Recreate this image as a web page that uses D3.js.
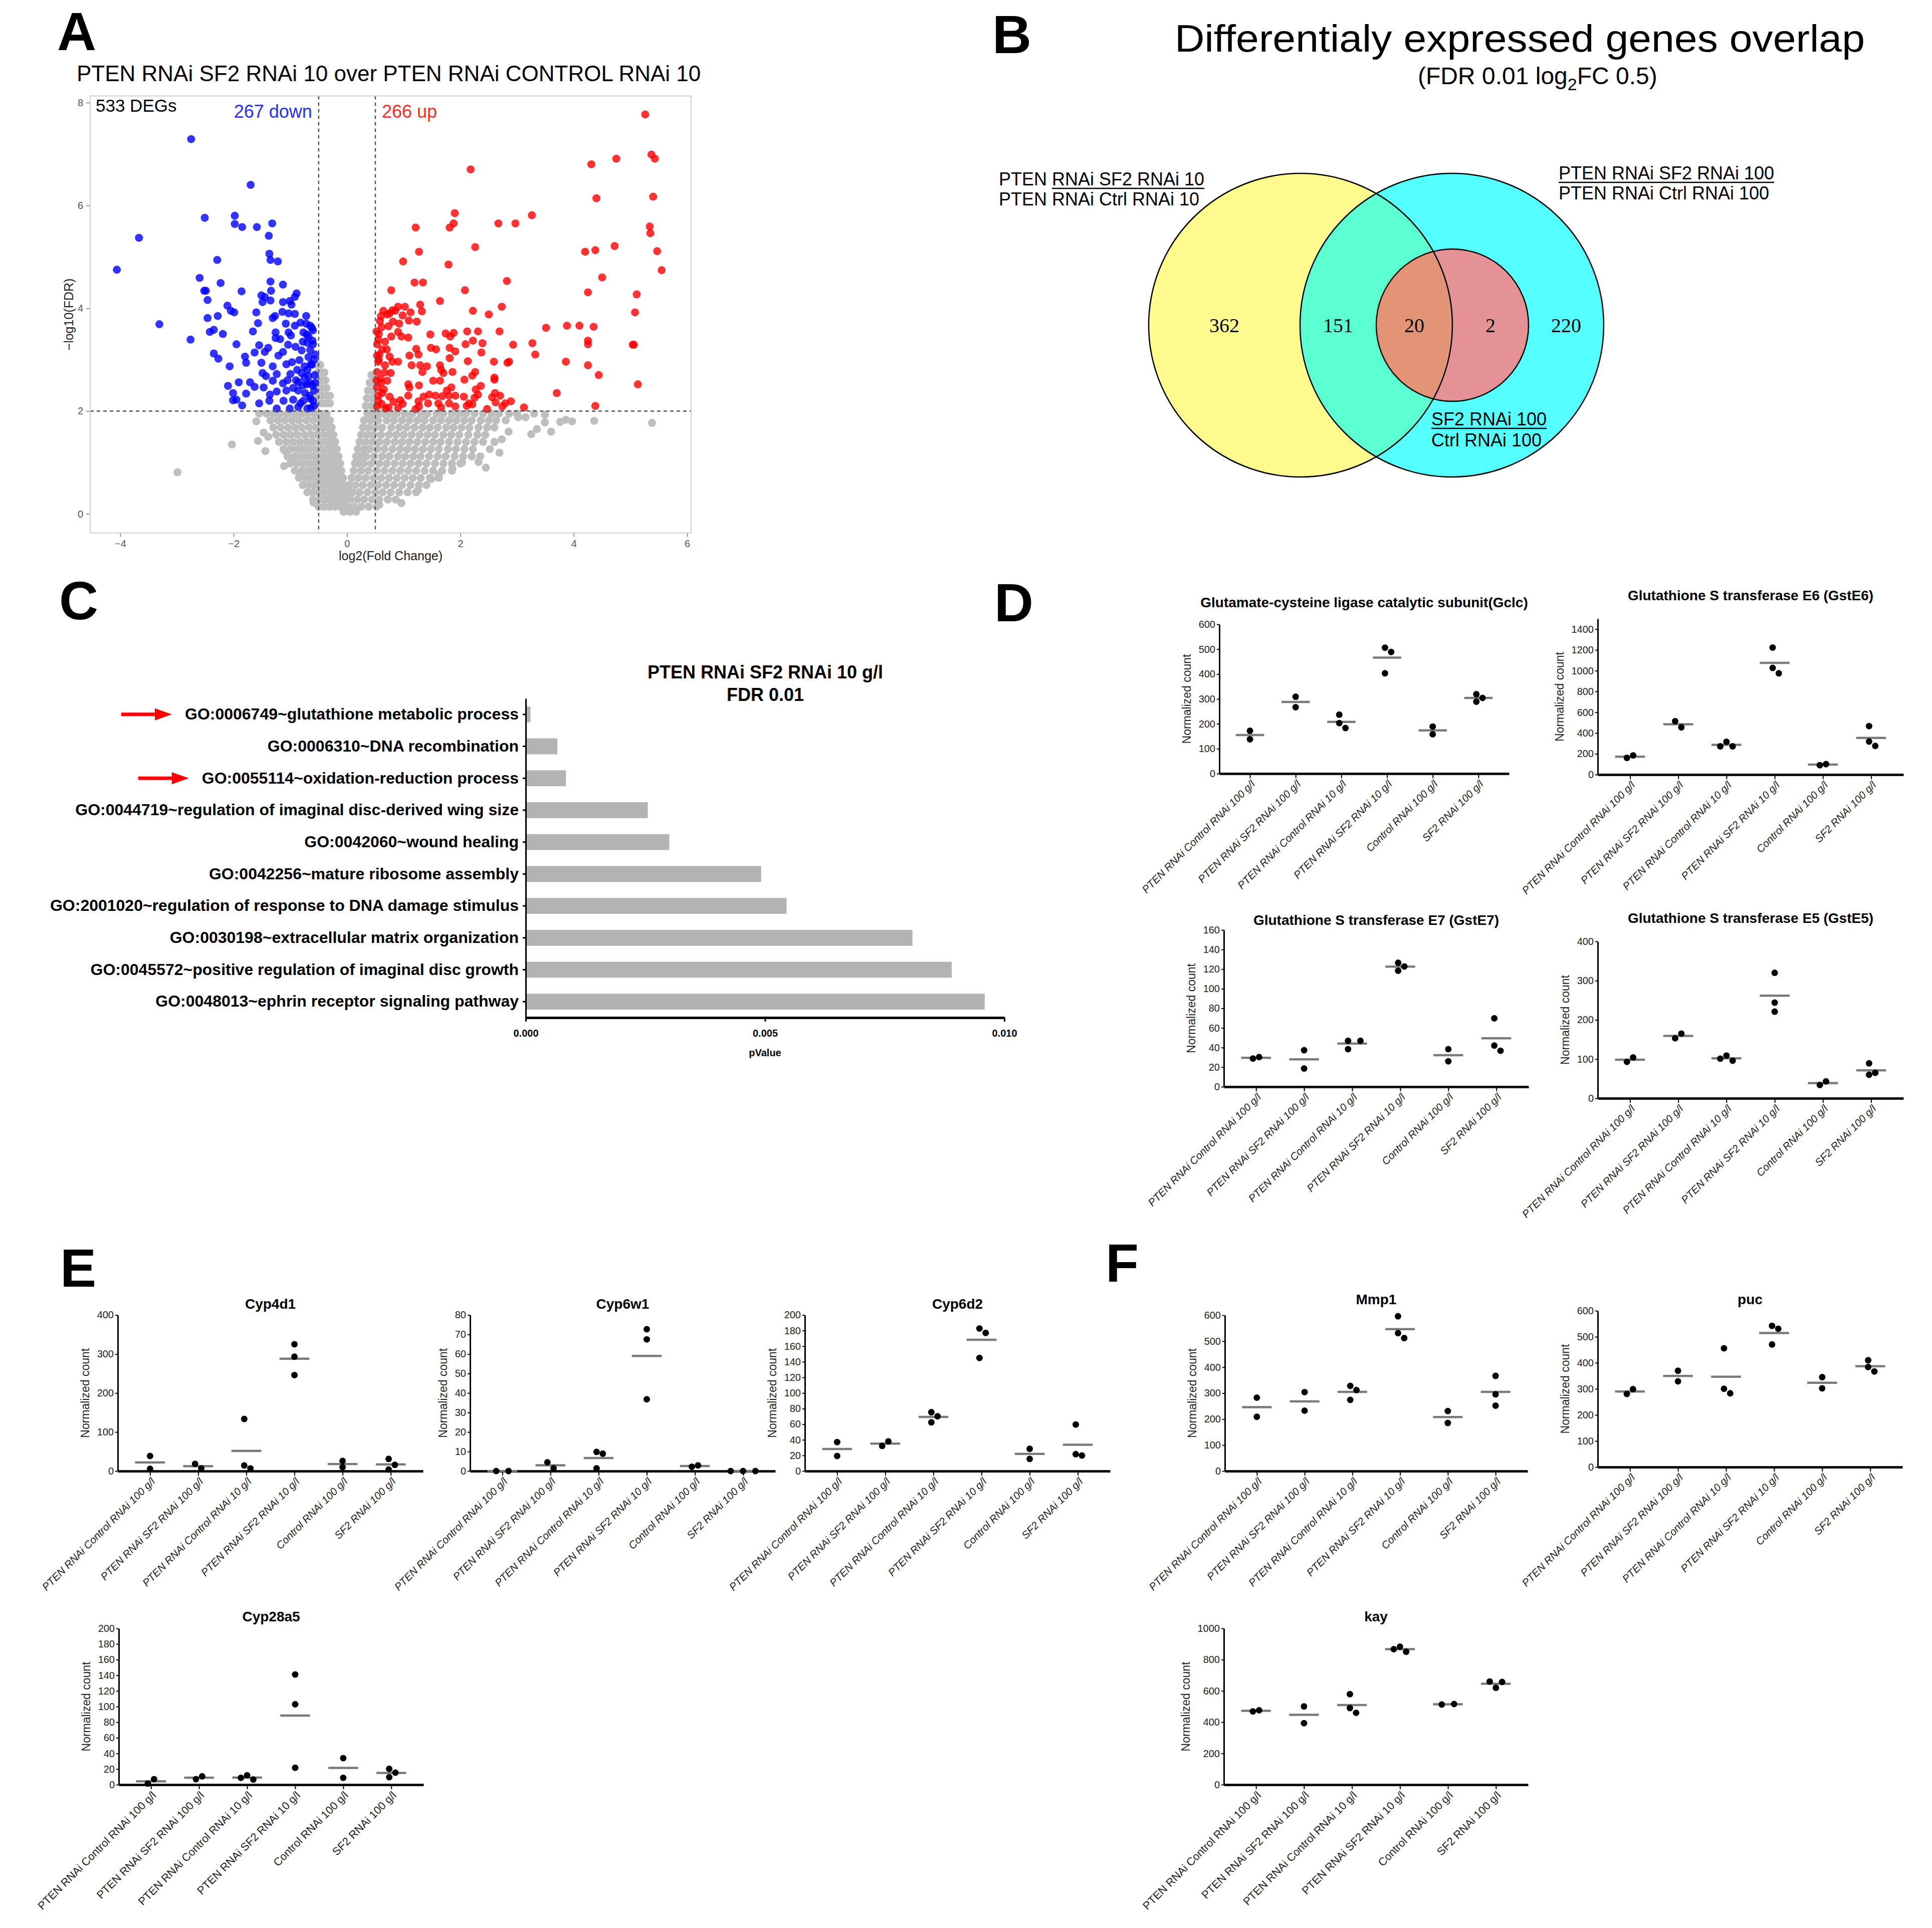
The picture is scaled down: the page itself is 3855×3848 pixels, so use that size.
<!DOCTYPE html>
<html>
<head>
<meta charset="utf-8">
<script src="https://cdn.jsdelivr.net/npm/d3@7"></script>
<style>
  body { margin: 0; background: #fff; }
  svg { display: block; }
</style>
</head>
<body>
<script>
const FONT = "'Liberation Sans', Arial, Helvetica, sans-serif";
const SERIF = "'Liberation Serif', 'Times New Roman', serif";

// ---------- data: A volcano (log2FC, -log10 FDR) ----------
const volcanoXTicks = [-4, -2, 0, 2, 4, 6];
const volcanoYTicks = [0, 2, 4, 6, 8];
const volcanoCounts = {total: 533, down: 267, up: 266};

const downGenes = [[-2.75,7.29],[-1.70,6.40],[-2.51,5.76],[-1.98,5.80],[-1.98,5.64],[-1.85,5.58],[-1.59,5.58],[-1.32,5.65],[-1.38,5.41],[-3.67,5.37],[-4.06,4.75],[-2.29,4.94],[-1.37,5.06],[-1.35,4.94],[-1.22,4.91],[-2.60,4.59],[-2.23,4.49],[-2.52,4.34],[-2.49,4.34],[-1.86,4.33],[-1.35,4.52],[-1.13,4.46],[-1.34,4.34],[-2.46,4.16],[-1.51,4.25],[-1.45,4.22],[-1.35,4.15],[-1.49,4.12],[-0.89,4.29],[-0.92,4.22],[-1.13,4.12],[-1.01,4.14],[-0.98,4.07],[-2.11,4.05],[-2.05,3.95],[-1.99,3.92],[-1.60,3.92],[-1.14,3.93],[-1.03,3.90],[-0.92,3.89],[-2.46,3.81],[-2.28,3.85],[-1.57,3.71],[-1.31,3.81],[-1.27,3.85],[-0.72,3.85],[-1.08,3.70],[-0.92,3.66],[-0.82,3.72],[-0.72,3.70],[-0.65,3.66],[-3.31,3.69],[-2.42,3.54],[-2.35,3.58],[-2.19,3.50],[-1.66,3.55],[-1.26,3.53],[-1.03,3.53],[-0.77,3.53],[-0.60,3.57],[-1.26,3.42],[-1.18,3.40],[-0.99,3.47],[-0.71,3.49],[-2.76,3.39],[-1.95,3.30],[-1.55,3.28],[-1.39,3.23],[-1.04,3.29],[-0.91,3.25],[-0.70,3.33],[-0.61,3.37],[-2.35,3.12],[-2.27,3.02],[-1.80,3.06],[-1.63,3.14],[-1.45,3.15],[-1.13,3.15],[-1.21,3.08],[-0.80,3.18],[-0.65,3.19],[-2.07,2.87],[-1.78,2.94],[-1.51,2.94],[-1.31,2.87],[-1.07,2.91],[-0.97,2.95],[-0.84,2.99],[-0.75,2.87],[-0.64,2.91],[-1.49,2.74],[-1.43,2.68],[-1.24,2.72],[-1.00,2.72],[-0.80,2.74],[-0.68,2.68],[-2.10,2.49],[-1.91,2.56],[-1.71,2.56],[-1.63,2.47],[-1.47,2.46],[-1.31,2.59],[-1.13,2.54],[-0.86,2.56],[-0.71,2.52],[-0.61,2.50],[-2.01,2.35],[-1.78,2.34],[-1.36,2.32],[-1.24,2.38],[-1.07,2.40],[-0.86,2.40],[-0.74,2.35],[-2.01,2.21],[-1.95,2.22],[-1.85,2.11],[-1.55,2.15],[-1.37,2.20],[-1.12,2.20],[-0.95,2.22],[-0.77,2.20],[-0.65,2.24],[-1.24,2.05],[-1.01,2.05],[-0.86,2.08],[-0.64,2.06],[-0.58,2.10],[-0.58,2.40],[-0.57,2.70],[-0.58,3.00],[-0.60,3.30],[-0.66,2.30],[-0.70,2.80],[-0.62,2.90],[-0.78,2.50],[-0.82,2.15],[-0.90,2.60],[-0.95,2.45],[-1.05,2.60],[-0.70,2.05],[-0.60,2.20],[-0.56,2.55],[-0.56,3.10],[-0.68,3.05],[-0.75,2.65],[-0.66,2.55],[-0.88,2.80],[-0.78,3.35],[-0.62,3.62],[-0.68,3.45]];

const upGenes = [[5.26,7.77],[5.37,6.99],[5.43,6.91],[4.75,6.91],[4.31,6.80],[2.18,6.70],[5.40,6.17],[4.40,6.14],[1.90,5.85],[3.26,5.81],[1.88,5.65],[1.81,5.57],[1.21,5.57],[2.67,5.65],[2.97,5.65],[5.34,5.59],[5.35,5.46],[2.26,5.19],[1.27,5.10],[4.20,5.10],[4.38,5.13],[4.72,5.21],[5.47,5.11],[0.99,4.91],[1.79,4.85],[5.55,4.74],[4.50,4.60],[2.82,4.53],[1.19,4.50],[1.34,4.50],[0.78,4.35],[2.08,4.35],[4.25,4.31],[5.11,4.27],[1.64,4.14],[1.29,4.07],[1.32,3.94],[2.73,4.03],[2.22,3.95],[2.50,3.88],[5.08,3.92],[0.90,4.03],[1.02,4.03],[0.80,3.96],[0.71,3.88],[1.12,3.92],[0.98,3.86],[1.09,3.76],[1.23,3.74],[0.81,3.74],[0.61,3.63],[0.73,3.65],[0.92,3.70],[3.51,3.62],[3.88,3.66],[4.10,3.66],[4.35,3.64],[1.47,3.49],[1.74,3.51],[1.88,3.52],[1.82,3.45],[2.12,3.55],[2.31,3.55],[2.69,3.55],[0.90,3.54],[0.78,3.45],[1.08,3.43],[0.96,3.45],[0.55,3.39],[0.67,3.35],[0.53,3.30],[1.22,3.21],[1.48,3.23],[1.57,3.20],[1.81,3.23],[1.91,3.16],[2.09,3.30],[2.22,3.37],[2.39,3.32],[2.37,3.14],[2.93,3.29],[3.27,3.32],[3.32,3.10],[4.25,3.37],[4.25,3.30],[5.04,3.29],[5.06,3.29],[0.53,3.08],[0.57,3.10],[0.75,3.06],[1.10,3.08],[1.26,3.10],[1.81,3.03],[2.13,2.97],[2.59,2.96],[2.83,2.94],[2.86,2.96],[3.86,2.96],[4.25,2.89],[4.44,2.70],[5.13,2.52],[3.70,2.35],[4.38,2.10],[3.12,2.07],[2.47,2.04],[0.55,2.96],[0.67,2.89],[0.80,2.96],[0.90,2.96],[1.14,2.89],[1.29,2.89],[1.41,2.87],[1.64,2.89],[1.66,2.80],[1.86,2.76],[1.70,2.74],[1.33,2.76],[0.77,2.74],[0.53,2.76],[0.59,2.63],[0.71,2.59],[1.08,2.52],[1.27,2.50],[1.52,2.59],[1.64,2.59],[2.07,2.61],[2.21,2.69],[2.26,2.76],[2.60,2.61],[2.60,2.65],[2.36,2.49],[2.27,2.42],[1.84,2.46],[1.76,2.40],[1.10,2.46],[0.65,2.42],[0.53,2.46],[0.55,2.30],[0.75,2.28],[0.94,2.21],[1.08,2.30],[1.26,2.19],[1.35,2.28],[1.45,2.32],[1.56,2.30],[1.68,2.29],[1.80,2.30],[1.91,2.30],[2.06,2.28],[2.15,2.15],[2.25,2.26],[2.31,2.32],[2.56,2.27],[2.70,2.30],[2.61,2.35],[2.89,2.19],[2.79,2.15],[2.74,2.09],[2.62,2.17],[1.91,2.09],[1.80,2.15],[1.61,2.15],[1.66,2.07],[1.43,2.15],[1.27,2.09],[1.21,2.04],[0.90,2.06],[0.98,2.14],[0.82,2.18],[0.61,2.14],[0.53,2.09],[0.73,2.07],[2.11,2.10],[2.21,2.13],[0.52,3.55],[0.58,3.75],[0.60,3.85],[0.56,3.50],[0.52,2.60],[0.55,2.20],[0.62,2.35],[0.66,2.75],[0.56,3.00],[0.70,3.20],[0.64,3.95],[0.75,3.90],[0.85,3.95],[0.60,2.55],[0.62,3.20],[0.68,2.05]];

// non-significant genes, read row by row: [-log10 FDR, [log2FC ...]]
const nsRows = [
  [2.90,[-0.52,-0.47]],[2.75,[-0.52,-0.46,-0.40]],[2.60,[-0.52,-0.45,-0.38]],[2.45,[-0.52,-0.44,-0.36]],
  [2.30,[-0.52,-0.44,-0.36,-0.30]],[2.15,[-0.52,-0.44,-0.37,-0.30]],
  [2.70,[0.43]],[2.55,[0.40,0.47]],[2.40,[0.37,0.46]],[2.25,[0.35,0.44]],[2.10,[0.33,0.42,0.48]],
  [1.95,[-1.42,-1.30,-1.18,-1.05,-0.92,-0.80,-0.68,-0.56,-0.45,-0.36,0.36,0.45,0.52,0.63,0.76,0.88,1.02,1.15,1.30,1.42,1.58,1.70,1.85,1.98,2.10,2.25,2.40,2.55,2.68,2.86,3.00]],
  [1.82,[-1.35,-1.22,-1.10,-0.97,-0.85,-0.72,-0.60,-0.48,-0.38,-0.30,0.30,0.42,0.55,0.70,0.83,0.97,1.10,1.24,1.37,1.52,1.66,1.80,1.93,2.07,2.20,2.36,2.50,2.63,2.80]],
  [1.68,[-1.30,-1.17,-1.04,-0.92,-0.80,-0.67,-0.55,-0.44,-0.34,-0.27,0.28,0.39,0.50,0.62,0.78,0.92,1.05,1.19,1.33,1.46,1.60,1.75,1.88,2.02,2.16,2.32,2.47,2.60]],
  [1.54,[-1.25,-1.12,-1.00,-0.88,-0.75,-0.63,-0.52,-0.41,-0.31,-0.24,0.25,0.36,0.47,0.60,0.74,0.87,1.00,1.14,1.28,1.42,1.55,1.70,1.84,1.98,2.14,2.30,2.44]],
  [1.40,[-1.20,-1.07,-0.95,-0.83,-0.71,-0.60,-0.48,-0.37,-0.28,-0.21,0.22,0.33,0.45,0.57,0.70,0.84,0.97,1.10,1.24,1.38,1.52,1.65,1.80,1.95,2.10,2.25,2.40,2.60]],
  [1.26,[-1.12,-1.00,-0.88,-0.77,-0.66,-0.55,-0.44,-0.34,-0.25,-0.18,0.19,0.30,0.40,0.53,0.66,0.80,0.94,1.07,1.20,1.34,1.48,1.62,1.78,1.92,2.07,2.22]],
  [1.12,[-1.05,-0.93,-0.82,-0.71,-0.60,-0.50,-0.40,-0.31,-0.22,-0.15,0.16,0.25,0.34,0.48,0.62,0.75,0.90,1.03,1.17,1.30,1.45,1.60,1.74,1.90,2.05,2.20,2.35]],
  [0.98,[-1.00,-0.88,-0.77,-0.66,-0.55,-0.45,-0.36,-0.27,-0.19,-0.12,0.14,0.22,0.30,0.43,0.57,0.70,0.84,0.98,1.12,1.26,1.40,1.55,1.70,1.85,2.00]],
  [0.84,[-0.92,-0.80,-0.70,-0.60,-0.50,-0.41,-0.32,-0.24,-0.16,-0.10,0.12,0.25,0.38,0.52,0.66,0.80,0.94,1.08,1.22,1.37,1.52,1.68,1.85]],
  [0.70,[-0.85,-0.74,-0.64,-0.54,-0.45,-0.36,-0.28,-0.20,-0.13,-0.07,0.08,0.20,0.33,0.47,0.60,0.74,0.88,1.02,1.16,1.30,1.46,1.62]],
  [0.56,[-0.78,-0.67,-0.57,-0.48,-0.39,-0.31,-0.23,-0.16,-0.10,-0.04,0.04,0.15,0.28,0.42,0.55,0.69,0.83,0.97,1.12,1.27,1.40]],
  [0.42,[-0.70,-0.60,-0.50,-0.42,-0.33,-0.25,-0.18,-0.11,-0.05,0.00,0.10,0.22,0.36,0.50,0.63,0.77,0.92,1.07,1.22]],
  [0.28,[-0.60,-0.50,-0.41,-0.33,-0.25,-0.17,-0.10,-0.04,0.06,0.18,0.30,0.44,0.57,0.72,0.86]],
  [0.14,[-0.50,-0.40,-0.30,-0.21,-0.12,-0.05,0.00,0.12,0.25,0.38,0.52]],
  [0.04,[-0.06,0.05,0.16]]
];
const nsScattered = [[-2.99,0.81],[-2.03,1.35],[-1.57,1.42],[-1.44,1.22],[-1.47,1.58],[-1.39,1.50],[-1.11,0.93],[-1.10,1.23],[-0.99,1.05],[-0.82,0.76],[-0.59,0.22],[3.15,1.88],[3.49,1.93],[3.25,1.55],[3.35,1.65],[3.60,1.60],[3.49,1.78],[3.76,1.79],[3.86,1.83],[3.97,1.80],[4.36,1.81],[5.38,1.77],[3.02,1.88],[2.85,1.60],[2.73,1.45],[2.69,1.19],[2.52,1.26],[2.32,1.01],[2.03,1.00],[1.86,0.88],[1.62,0.76],[1.49,0.68],[1.25,0.46],[0.96,0.21],[0.57,0.18],[-1.60,1.80],[-1.55,1.95],[3.30,1.95],[2.45,0.90]];

// ---------- data: B venn ----------
const vennCounts = [362, 151, 20, 2, 220];
const vennSetA = ['PTEN RNAi SF2 RNAi 10', 'PTEN RNAi Ctrl RNAi 10'];
const vennSetB = ['PTEN RNAi SF2 RNAi 100', 'PTEN RNAi Ctrl RNAi 100'];
const vennSetC = ['SF2 RNAi 100', 'Ctrl RNAi 100'];

// ---------- data: C GO terms ----------
const goTerms = [
  'GO:0006749~glutathione metabolic process',
  'GO:0006310~DNA recombination',
  'GO:0055114~oxidation-reduction process',
  'GO:0044719~regulation of imaginal disc-derived wing size',
  'GO:0042060~wound healing',
  'GO:0042256~mature ribosome assembly',
  'GO:2001020~regulation of response to DNA damage stimulus',
  'GO:0030198~extracellular matrix organization',
  'GO:0045572~positive regulation of imaginal disc growth',
  'GO:0048013~ephrin receptor signaling pathway'
];
const goPValues = [0.0001, 0.00066, 0.00084, 0.00255, 0.0030, 0.00492, 0.00545, 0.00808, 0.0089, 0.00959];
const goHighlighted = ['GO:0006749~glutathione metabolic process', 'GO:0055114~oxidation-reduction process'];
const goXTicks = [0, 0.005, 0.01];

// ---------- data: D/E/F normalized counts ----------
const conditions = ['PTEN RNAi Control RNAi 100 g/l', 'PTEN RNAi SF2 RNAi 100 g/l', 'PTEN RNAi Control RNAi 10 g/l', 'PTEN RNAi SF2 RNAi 10 g/l', 'Control RNAi 100 g/l', 'SF2 RNAi 100 g/l'];

const gclc = [[172,138],[309,267],[237,203,183],[506,489,403],[189,158],[319,304,289]];
const gstE6 = [[161,185],[514,455],[316,272,272],[1223,1027,975],[91,101],[467,318,276]];
const gstE7 = [[28.8,30.3],[37.3,18.6],[46.9,46.9,38.4],[118.4,126.5,122.7],[38.4,26],[69.8,42,36.7]];
const gstE5 = [[93,104],[153,165],[109,96,101],[320,244,221],[34,43],[89,60,65]];
const cyp4d1 = [[38.6,5.8],[18.4,6.9],[133.5,14.4,6.9],[325,293,246],[26,9.8],[31,16,4]];
const cyp6w1 = [[0,0],[4.5,1.4],[9.8,8.9,1.4],[72.7,67.5,36.8],[2.2,2.9],[0,0,0]];
const cyp6d2 = [[37.1,19.3],[32.2,38],[75.4,70.2,62.4],[182.7,177,145],[28.5,15.5],[59.6,21.6,19.9]];
const cyp28a5 = [[1.4,7.1],[7.1,10.7],[12,6.6,8.8],[141,102.9,21.7],[34,8.8],[20.3,15.4,9.6]];
const mmp1 = [[282.6,209],[304,232.5],[328,312,274],[596,531,512],[231,185],[366.5,295.6,252]];
const puc = [[280.7,298.8],[369.6,329],[456,300.5,283],[542,531,470.6],[345,302],[410,384,367]];
const kay = [[469,476],[500.7,393.7],[579,490,460],[883,850.5,867],[513,516],[660,620,657]];

const ticks600 = [0, 100, 200, 300, 400, 500, 600];
const ticks1400 = [0, 200, 400, 600, 800, 1000, 1200, 1400];
const ticks160 = [0, 20, 40, 60, 80, 100, 120, 140, 160];
const ticks400 = [0, 100, 200, 300, 400];
const ticks80 = [0, 10, 20, 30, 40, 50, 60, 70, 80];
const ticks200 = [0, 20, 40, 60, 80, 100, 120, 140, 160, 180, 200];
const ticks1000 = [0, 200, 400, 600, 800, 1000];

// ---------- svg ----------
const svg = d3.select('body').append('svg')
  .attr('width', 3855).attr('height', 3848)
  .style('font-family', FONT);
svg.append('rect').attr('width', 3855).attr('height', 3848).attr('fill', '#fff');

const letters = [['A', 114, 100], ['B', 1980, 106], ['C', 118, 1236], ['D', 1984, 1240], ['E', 120, 2568], ['F', 2206, 2558]];
svg.selectAll('text.letter').data(letters).join('text')
  .attr('class', 'letter')
  .attr('x', d => d[1]).attr('y', d => d[2])
  .attr('font-size', 108).attr('font-weight', 'bold')
  .text(d => d[0]);

// ---------- A ----------
const drawVolcano = () => {
  const box = {left: 180, right: 1379, top: 191.5, bottom: 1063.6};
  const x = d3.scaleLinear().domain([-4.53, 6.07]).range([box.left, box.right]);
  const y = d3.scaleLinear().domain([-0.37, 8.13]).range([box.bottom, box.top]);
  const g = svg.append('g');

  g.append('text').attr('x', 153).attr('y', 162).attr('font-size', 44)
    .text('PTEN RNAi SF2 RNAi 10 over PTEN RNAi CONTROL RNAi 10');

  const xa = g.append('g').attr('transform', 'translate(0,' + box.bottom + ')')
    .call(d3.axisBottom(x).tickValues(volcanoXTicks).tickSize(8).tickPadding(6));
  const ya = g.append('g').attr('transform', 'translate(' + box.left + ',0)')
    .call(d3.axisLeft(y).tickValues(volcanoYTicks).tickSize(8).tickPadding(6));
  [xa, ya].forEach(a => {
    a.attr('font-size', 20).attr('font-family', FONT);
    a.select('.domain').remove();
    a.selectAll('.tick line').attr('stroke', '#999').attr('stroke-width', 2);
    a.selectAll('.tick text').attr('fill', '#555');
  });

  const ns = nsRows.flatMap(([v, fcs]) => fcs.map(fc => [fc, v])).concat(nsScattered);
  const dots = [
    {pts: ns, color: '#bebebe', op: 1},
    {pts: downGenes, color: '#0000ff', op: 0.8},
    {pts: upGenes, color: '#ff0000', op: 0.8}
  ];
  dots.forEach(s => {
    g.append('g').selectAll('circle').data(s.pts).join('circle')
      .attr('cx', d => x(d[0])).attr('cy', d => y(d[1])).attr('r', 8)
      .attr('fill', s.color).attr('fill-opacity', s.op);
  });

  const dash = '7,6';
  [-0.5, 0.5].forEach(v => {
    g.append('line').attr('x1', x(v)).attr('x2', x(v)).attr('y1', box.top).attr('y2', box.bottom)
      .attr('stroke', '#555').attr('stroke-width', 2.5).attr('stroke-dasharray', dash);
  });
  g.append('line').attr('x1', box.left).attr('x2', box.right).attr('y1', y(2)).attr('y2', y(2))
    .attr('stroke', '#555').attr('stroke-width', 2.5).attr('stroke-dasharray', dash);

  g.append('rect').attr('x', box.left).attr('y', box.top)
    .attr('width', box.right - box.left).attr('height', box.bottom - box.top)
    .attr('fill', 'none').attr('stroke', '#cfcfcf').attr('stroke-width', 2);

  g.append('text').attr('x', 191).attr('y', 223).attr('font-size', 35).text(volcanoCounts.total + ' DEGs');
  g.append('text').attr('x', x(-0.5) - 13).attr('y', 235).attr('font-size', 36).attr('text-anchor', 'end')
    .attr('fill', '#2b2bff').text(volcanoCounts.down + ' down');
  g.append('text').attr('x', x(0.5) + 13).attr('y', 235).attr('font-size', 36)
    .attr('fill', '#ff2b2b').text(volcanoCounts.up + ' up');

  g.append('text').attr('x', (box.left + box.right) / 2).attr('y', 1118).attr('font-size', 25)
    .attr('text-anchor', 'middle').attr('fill', '#222').text('log2(Fold Change)');
  g.append('text').attr('transform', 'translate(137,' + (box.top + box.bottom) / 2 + ') rotate(-90)')
    .attr('font-size', 25).attr('text-anchor', 'middle').attr('dy', '0.35em').attr('fill', '#222')
    .text('\u2212log10(FDR)');
};

// ---------- B ----------
const drawVenn = () => {
  const g = svg.append('g');
  const A = {cx: 2595, cy: 649, r: 303};
  const B = {cx: 2897, cy: 649, r: 303};
  const C = {cx: 2898, cy: 649, r: 152};

  g.append('text').attr('x', 2344).attr('y', 103).attr('font-size', 76)
    .attr('textLength', 1377).attr('lengthAdjust', 'spacingAndGlyphs')
    .text('Differentialy expressed genes overlap');
  const sub = g.append('text').attr('x', 2829).attr('y', 168).attr('font-size', 48);
  sub.append('tspan').text('(FDR 0.01 log');
  sub.append('tspan').attr('font-size', 34).attr('dy', 12).text('2');
  sub.append('tspan').attr('dy', -12).text('FC 0.5)');

  const defs = svg.append('defs');
  defs.append('clipPath').attr('id', 'clipA').append('circle').attr('cx', A.cx).attr('cy', A.cy).attr('r', A.r);

  const circ = (c, fill, clip) => {
    const el = g.append('circle').attr('cx', c.cx).attr('cy', c.cy).attr('r', c.r).attr('fill', fill);
    if (clip) el.attr('clip-path', 'url(#clipA)');
  };
  circ(A, '#fffb8f');
  circ(B, '#55ffff');
  circ(B, '#5cffcf', true);
  circ(C, '#e49296');
  circ(C, '#e39475', true);
  [A, B, C].forEach(c => {
    g.append('circle').attr('cx', c.cx).attr('cy', c.cy).attr('r', c.r)
      .attr('fill', 'none').attr('stroke', '#000').attr('stroke-width', 2.5);
  });

  // region centres from the circle edges
  const edges = [A.cx - A.r, B.cx - B.r, C.cx - C.r, A.cx + A.r, C.cx + C.r, B.cx + B.r];
  vennCounts.forEach((n, i) => {
    g.append('text').attr('x', (edges[i] + edges[i + 1]) / 2).attr('y', A.cy)
      .attr('dy', '0.35em').attr('text-anchor', 'middle')
      .attr('font-family', SERIF).attr('font-size', 40).text(n);
  });

  const label = (lines, x, y1, y2, skipChars) => {
    const t1 = g.append('text').attr('x', x).attr('y', y1).attr('font-size', 36).text(lines[0]);
    g.append('text').attr('x', x).attr('y', y2).attr('font-size', 36).text(lines[1]);
    const n = t1.node();
    const start = skipChars ? n.getSubStringLength(0, skipChars) : 0;
    const w = n.getComputedTextLength();
    g.append('line').attr('x1', x + start).attr('x2', x + w).attr('y1', y1 + 6).attr('y2', y1 + 6)
      .attr('stroke', '#000').attr('stroke-width', 2.5);
  };
  label(vennSetA, 1993, 370, 410, 5);
  label(vennSetB, 3110, 358, 398, 0);
  label(vennSetC, 2856, 849, 891, 0);
};

// ---------- C ----------
const drawGO = () => {
  const g = svg.append('g');
  const x = d3.scaleLinear().domain([0, 0.01]).range([1049, 2004]);
  const y = d3.scaleBand().domain(goTerms).range([1394, 2031]).paddingInner(0.5).paddingOuter(0.25);

  g.append('text').attr('x', 1527).attr('y', 1354).attr('text-anchor', 'middle')
    .attr('font-size', 36).attr('font-weight', 'bold').text('PTEN RNAi SF2 RNAi 10 g/l');
  g.append('text').attr('x', 1527).attr('y', 1399).attr('text-anchor', 'middle')
    .attr('font-size', 36).attr('font-weight', 'bold').text('FDR 0.01');

  g.selectAll('rect.bar').data(goTerms).join('rect').attr('class', 'bar')
    .attr('x', x(0)).attr('y', d => y(d))
    .attr('width', (d, i) => x(goPValues[i]) - x(0)).attr('height', y.bandwidth())
    .attr('fill', '#b3b3b3');

  const ya = g.append('g').attr('transform', 'translate(' + x(0) + ',0)')
    .call(d3.axisLeft(y).tickSize(6).tickSizeOuter(0).tickPadding(8));
  ya.attr('font-size', 32).attr('font-family', FONT).attr('font-weight', 'bold');
  ya.select('.domain').attr('stroke', '#000').attr('stroke-width', 3);
  ya.selectAll('.tick line').attr('stroke-width', 3);
  ya.selectAll('.tick text').attr('fill', '#000');

  const xa = g.append('g').attr('transform', 'translate(0,2031)')
    .call(d3.axisBottom(x).tickValues(goXTicks).tickSize(8).tickSizeOuter(0).tickPadding(16).tickFormat(d3.format('.3f')));
  xa.attr('font-size', 20).attr('font-family', FONT).attr('font-weight', 'bold');
  xa.select('.domain').attr('stroke', '#000').attr('stroke-width', 5);
  xa.selectAll('.tick line').attr('stroke-width', 3);
  xa.selectAll('.tick text').attr('fill', '#000');

  g.append('text').attr('x', (x(0) + x(0.01)) / 2).attr('y', 2108).attr('text-anchor', 'middle')
    .attr('font-size', 20).attr('font-weight', 'bold').text('pValue');

  // red arrows in front of the highlighted terms
  ya.selectAll('.tick').filter(d => goHighlighted.includes(d)).each(function (d) {
    const box = d3.select(this).select('text').node().getBBox();
    const tip = x(0) + box.x - 26;
    const cy = y(d) + y.bandwidth() / 2;
    const tail = tip - 101;
    const pts = [[tail, cy - 3.5], [tip - 34, cy - 3.5], [tip - 34, cy - 12], [tip, cy], [tip - 34, cy + 12], [tip - 34, cy + 3.5], [tail, cy + 3.5]];
    g.append('path').attr('d', 'M' + pts.join('L') + 'Z').attr('fill', '#ff0000');
  });
};

// ---------- D/E/F dot plots ----------
const dodge = (vals, y, r) => {
  const placed = [];
  const offs = vals.map(v => {
    const py = y(v);
    for (const k of [0, 1, -1, 2, -2, 3]) {
      const px = k * r * 1.9;
      if (placed.every(p => Math.hypot(p[0] - px, p[1] - py) >= 2 * r - 0.5)) {
        placed.push([px, py]);
        return px;
      }
    }
    return 0;
  });
  const m = d3.mean(offs);
  return offs.map(o => o - m);
};

const drawDots = (L) => {
  const g = svg.append('g');
  const x = d3.scalePoint().domain(conditions).range([L.x0, L.x1]).padding(0.67);
  const y = d3.scaleLinear().domain([0, L.max]).range([L.y0, L.yTop]);
  const step = x.step();
  const r = 6.5;

  g.append('text').attr('x', (L.x0 + L.x1) / 2).attr('y', L.titleY).attr('text-anchor', 'middle')
    .attr('font-size', 28).attr('font-weight', 'bold').text(L.title);

  const ya = g.append('g').attr('transform', 'translate(' + L.x0 + ',0)')
    .call(d3.axisLeft(y).tickValues(L.ticks).tickSize(5).tickSizeOuter(0).tickPadding(3).tickFormat(d3.format('d')));
  ya.attr('font-size', 20).attr('font-family', FONT);
  ya.select('.domain').attr('stroke', '#000').attr('stroke-width', 3);
  ya.selectAll('.tick line').attr('stroke-width', 2);
  ya.selectAll('.tick text').attr('fill', '#222');

  const xa = g.append('g').attr('transform', 'translate(0,' + L.y0 + ')')
    .call(d3.axisBottom(x).tickSize(9).tickSizeOuter(0).tickFormat(''));
  xa.select('.domain').attr('stroke', '#111').attr('stroke-width', 5);
  xa.selectAll('.tick line').attr('stroke-width', 2);

  g.selectAll('text.cond').data(conditions).join('text').attr('class', 'cond')
    .attr('transform', d => 'translate(' + (x(d) + 6) + ',' + (L.y0 + 17) + ') rotate(-45)')
    .attr('text-anchor', 'end').attr('dy', '0.35em')
    .attr('font-size', L.italic ? 21 : 22).attr('font-style', L.italic ? 'italic' : 'normal')
    .attr('fill', '#222').text(d => d);

  const yb = ya.node().getBBox();
  g.append('text').attr('transform', 'translate(' + (L.x0 + yb.x - 24) + ',' + (L.y0 + L.yTop) / 2 + ') rotate(-90)')
    .attr('text-anchor', 'middle').attr('dy', '0.35em').attr('font-size', 23).attr('fill', '#222')
    .text('Normalized count');

  L.data.forEach((vals, i) => {
    const cx = x(conditions[i]);
    const mean = d3.mean(vals);
    g.append('line').attr('x1', cx - 0.31 * step).attr('x2', cx + 0.31 * step)
      .attr('y1', y(mean)).attr('y2', y(mean)).attr('stroke', '#7a7a7a').attr('stroke-width', 4.5);
    const offs = dodge(vals, y, r);
    g.append('g').selectAll('circle').data(vals).join('circle')
      .attr('cx', (d, j) => cx + offs[j]).attr('cy', d => y(d)).attr('r', r).attr('fill', '#000');
  });
};

const dotPlots = [
  {title: 'Glutamate-cysteine ligase catalytic subunit(Gclc)', data: gclc, ticks: ticks600, max: 600, x0: 2433, x1: 3011, y0: 1544, yTop: 1246, titleY: 1212, italic: true},
  {title: 'Glutathione S transferase E6 (GstE6)', data: gstE6, ticks: ticks1400, max: 1500, x0: 3188, x1: 3798, y0: 1546, yTop: 1235, titleY: 1198, italic: true},
  {title: 'Glutathione S transferase E7 (GstE7)', data: gstE7, ticks: ticks160, max: 160, x0: 2442, x1: 3050, y0: 2169, yTop: 1856, titleY: 1846, italic: true},
  {title: 'Glutathione S transferase E5 (GstE5)', data: gstE5, ticks: ticks400, max: 400, x0: 3188, x1: 3798, y0: 2192, yTop: 1879, titleY: 1842, italic: true},
  {title: 'Cyp4d1', data: cyp4d1, ticks: ticks400, max: 400, x0: 235, x1: 844, y0: 2936, yTop: 2624.5, titleY: 2612, italic: true},
  {title: 'Cyp6w1', data: cyp6w1, ticks: ticks80, max: 80, x0: 938, x1: 1547, y0: 2936, yTop: 2624.5, titleY: 2612, italic: true},
  {title: 'Cyp6d2', data: cyp6d2, ticks: ticks200, max: 200, x0: 1606, x1: 2215, y0: 2936, yTop: 2624.5, titleY: 2612, italic: true},
  {title: 'Cyp28a5', data: cyp28a5, ticks: ticks200, max: 200, x0: 237, x1: 845, y0: 3562, yTop: 3250, titleY: 3236, italic: false},
  {title: 'Mmp1', data: mmp1, ticks: ticks600, max: 600, x0: 2444, x1: 3048, y0: 2936, yTop: 2625, titleY: 2603, italic: true},
  {title: 'puc', data: puc, ticks: ticks600, max: 600, x0: 3188, x1: 3796, y0: 2928, yTop: 2616, titleY: 2603, italic: true},
  {title: 'kay', data: kay, ticks: ticks1000, max: 1000, x0: 2442, x1: 3049, y0: 3562, yTop: 3250, titleY: 3236, italic: false}
];

drawVolcano();
drawVenn();
drawGO();
dotPlots.forEach(drawDots);
</script>
</body>
</html>
